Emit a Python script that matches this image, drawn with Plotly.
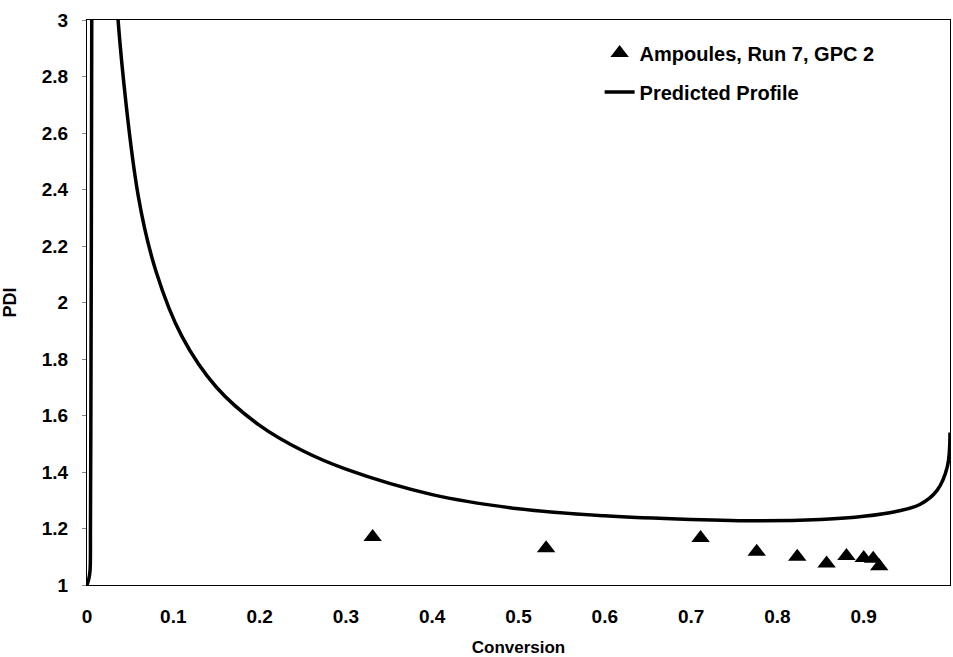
import plotly.graph_objects as go

# Measured data (Ampoules, Run 7, GPC 2)
conv_meas = [0.331, 0.532, 0.711, 0.776, 0.823, 0.857, 0.880, 0.900, 0.911, 0.918]
pdi_meas = [1.170, 1.130, 1.166, 1.118, 1.100, 1.076, 1.103, 1.096, 1.093, 1.066]

# Predicted profile
conv_pred = [0.0, 0.002, 0.0035, 0.004, 0.0045, 0.005, 0.0055, 0.0058,
             0.0335, 0.036, 0.0595, 0.08, 0.11, 0.15, 0.20, 0.25, 0.30, 0.40,
             0.50, 0.60, 0.70, 0.78, 0.85, 0.90, 0.94, 0.965, 0.985, 0.997, 1.0]
pdi_pred = [1.0, 1.02, 1.05, 1.2, 1.6, 2.2, 3.0, 3.3,
            3.2, 3.0, 2.375, 2.11, 1.88, 1.70, 1.565, 1.475, 1.41, 1.32,
            1.27, 1.245, 1.232, 1.227, 1.232, 1.243, 1.262, 1.285, 1.335, 1.42, 1.54]

x_tickvals = [0, 0.1, 0.2, 0.3, 0.4, 0.5, 0.6, 0.7, 0.8, 0.9, 1]
x_ticktext = ["0", "0.1", "0.2", "0.3", "0.4", "0.5", "0.6", "0.7", "0.8", "0.9", "1"]
y_tickvals = [1, 1.2, 1.4, 1.6, 1.8, 2, 2.2, 2.4, 2.6, 2.8, 3]
y_ticktext = ["1", "1.2", "1.4", "1.6", "1.8", "2", "2.2", "2.4", "2.6", "2.8", "3"]

FONT = "Liberation Sans, Arial, sans-serif"

fig = go.Figure()
fig.add_trace(go.Scatter(
    x=conv_meas, y=pdi_meas, mode="markers", name="Ampoules, Run 7, GPC 2",
    marker=dict(symbol="triangle-up", size=16, color="black"),
    legendgroup="a", cliponaxis=False))
fig.add_trace(go.Scatter(
    x=conv_pred, y=pdi_pred, mode="lines", name="Predicted Profile",
    line=dict(color="black", width=3.5, shape="spline", smoothing=1.0),
    legendgroup="b"))

fig.update_layout(
    width=953, height=657,
    margin=dict(l=87, r=3, t=20, b=72),
    paper_bgcolor="white", plot_bgcolor="white",
    font=dict(family=FONT, color="black", size=17, weight="bold"),
    showlegend=True,
    legend=dict(x=0.594, y=0.976, xanchor="left", yanchor="top",
                bgcolor="rgba(0,0,0,0)", tracegroupgap=10,
                font=dict(family=FONT, size=20, weight="bold")),
)
fig.update_xaxes(
    range=[0, 1], tickvals=x_tickvals, ticktext=x_ticktext,
    showgrid=False, zeroline=False, showline=True, linecolor="black", linewidth=1,
    mirror=True, ticks="", ticklabelstandoff=14,
    tickfont=dict(family=FONT, size=19, weight="bold"),
    title=dict(text="Conversion", font=dict(family=FONT, size=17, weight="bold"), standoff=16))
fig.update_yaxes(
    range=[1, 3], tickvals=y_tickvals, ticktext=y_ticktext,
    showgrid=False, zeroline=False, showline=True, linecolor="black", linewidth=1,
    mirror=True, ticks="outside", ticklen=4, tickcolor="#888", ticklabelstandoff=10,
    tickfont=dict(family=FONT, size=19, weight="bold"),
    title=dict(text="PDI", font=dict(family=FONT, size=18, weight="bold"), standoff=24))

fig.write_html("out.html")
